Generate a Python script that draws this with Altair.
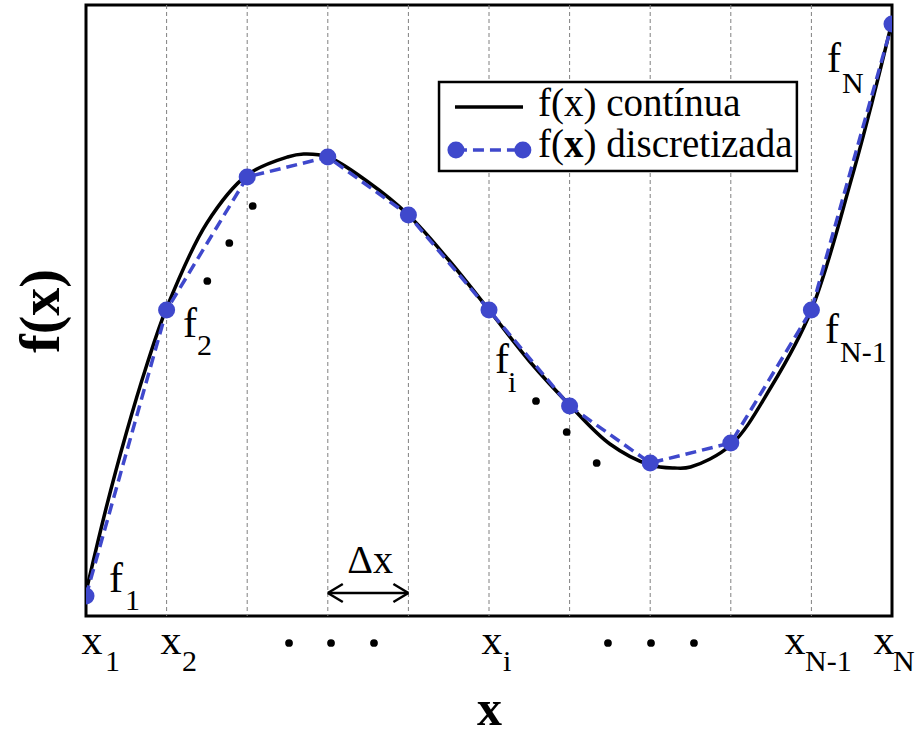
import altair as alt
import pandas as pd

# ---- data (x in node index units, f in plot units) ----
x_disc = [0, 1, 2, 3, 4, 5, 6, 7, 8, 9, 10]
f_disc = [20, 306, 439, 459, 401, 306, 210, 153, 173, 306, 592]

x_cont = [0, 0.25, 0.5, 0.75, 1, 1.5, 2, 2.5, 2.7, 3, 3.5, 4, 4.5, 5, 5.5,
          6, 6.5, 7, 7.3, 7.5, 8, 8.5, 9, 9.5, 9.75, 10]
f_cont = [24, 108, 183, 250, 308, 393, 441, 459, 462, 459, 434, 401, 356, 306, 255,
          211, 172, 151, 148, 149, 171, 229, 306, 438, 513, 594]

grid_x = [1, 2, 3, 4, 5, 6, 7, 8, 9]

# x-axis node labels: main letter + subscript
xl_main_x = [0.074, 1.055, 5.037, 8.797, 9.901]
xl_sub_x = [0.236, 1.19, 5.174, 8.921, 10.012]
xl_sub = ["1", "2", "i", "N-1", "N"]

# f labels near the nodes
fl_main_x = [0.285, 1.203, 5.074, 9.169, 9.194]
fl_main_y = [24, 279, 243, 273, 544]
fl_sub_x = [0.484, 1.377, 5.236, 9.355, 9.380]
fl_sub_y = [6, 261, 224, 254, 523]
fl_sub = ["1", "2", "i", "N-1", "N"]

# ellipsis dots
dots_x = [1.505, 1.778, 2.068, 5.583, 5.964, 6.336, 2.519, 3.04, 3.573, 6.476, 7.01, 7.543]
dots_y = [335, 373, 410, 215, 184, 153, -27, -27, -27, -27, -27, -27]

BLUE = "#3F48CC"
FONT = "Liberation Serif"

xs = alt.Scale(domain=[0, 10], nice=False, zero=False)
ys = alt.Scale(domain=[0, 611], nice=False, zero=False)

xaxis = alt.Axis(title="x", labels=False, ticks=False, domain=False, grid=False,
                 titleFont=FONT, titleFontSize=50, titleFontWeight="bold",
                 titleColor="black", titleBaseline="alphabetic", titleAlign="center",
                 titleX=403, titleY=108)
yaxis = alt.Axis(title="f(x)", labels=False, ticks=False, domain=False, grid=False,
                 titleFont=FONT, titleFontSize=56, titleFontWeight="bold",
                 titleColor="black", titleBaseline="alphabetic", titleAlign="center",
                 titleAngle=270, titleX=-28, titleY=305.5)


def X(f):
    return alt.X(f, type="quantitative", scale=xs, axis=xaxis)


def Y(f):
    return alt.Y(f, type="quantitative", scale=ys, axis=yaxis)


grid = alt.Chart(pd.DataFrame({"x": grid_x})).mark_rule(
    color="#808080", strokeWidth=1, strokeDash=[4, 3]
).encode(x=X("x"))

cont = alt.Chart(pd.DataFrame({"x": x_cont, "f": f_cont})).mark_line(
    color="black", strokeWidth=3.5, interpolate="catmull-rom", clip=True
).encode(x=X("x"), y=Y("f"))

disc_line = alt.Chart(pd.DataFrame({"x": x_disc, "f": f_disc})).mark_line(
    color=BLUE, strokeWidth=3.5, strokeDash=[11, 6], clip=True
).encode(x=X("x"), y=Y("f"))

disc_pts = alt.Chart(pd.DataFrame({"x": x_disc, "f": f_disc})).mark_circle(
    color=BLUE, size=290, opacity=1, clip=True
).encode(x=X("x"), y=Y("f"))

# legend
leg_box = alt.Chart(pd.DataFrame({"x": [4.38], "x2": [8.82], "y": [445], "y2": [534]})).mark_rect(
    fill="white", stroke="black", strokeWidth=2.5
).encode(x=X("x"), x2="x2", y=Y("y"), y2="y2")

leg_black = alt.Chart(pd.DataFrame({"x": [4.578], "x2": [5.422], "y": [509]})).mark_rule(
    color="black", strokeWidth=3.5
).encode(x=X("x"), x2="x2", y=Y("y"))

leg_blue = alt.Chart(pd.DataFrame({"x": [4.59], "x2": [5.42], "y": [466]})).mark_rule(
    color=BLUE, strokeWidth=3.5, strokeDash=[11, 6]
).encode(x=X("x"), x2="x2", y=Y("y"))

leg_blue_pts = alt.Chart(pd.DataFrame({"x": [4.59, 5.42], "y": [466, 466]})).mark_circle(
    color=BLUE, size=290, opacity=1
).encode(x=X("x"), y=Y("y"))

leg_t1 = alt.Chart(pd.DataFrame({"x": [5.608], "y": [500], "t": ["f(x) contínua"]})).mark_text(
    font=FONT, fontSize=39, align="left", baseline="alphabetic", color="black"
).encode(x=X("x"), y=Y("y"), text="t:N")

leg_t2a = alt.Chart(pd.DataFrame({"x": [5.608], "y": [459], "t": ["f("]})).mark_text(
    font=FONT, fontSize=39, align="left", baseline="alphabetic", color="black"
).encode(x=X("x"), y=Y("y"), text="t:N")
leg_t2b = alt.Chart(pd.DataFrame({"x": [5.608], "y": [459], "t": ["x"]})).mark_text(
    font=FONT, fontSize=39, fontWeight="bold", align="left", baseline="alphabetic",
    color="black", dx=26
).encode(x=X("x"), y=Y("y"), text="t:N")
leg_t2c = alt.Chart(pd.DataFrame({"x": [5.608], "y": [459], "t": [") discretizada"]})).mark_text(
    font=FONT, fontSize=39, align="left", baseline="alphabetic", color="black", dx=45.5
).encode(x=X("x"), y=Y("y"), text="t:N")

# x node labels
xl_m = alt.Chart(pd.DataFrame({"x": xl_main_x, "y": [-38] * 5, "t": ["x"] * 5})).mark_text(
    font=FONT, fontSize=42, align="center", baseline="alphabetic", color="black"
).encode(x=X("x"), y=Y("y"), text="t:N")
xl_s = alt.Chart(pd.DataFrame({"x": xl_sub_x, "y": [-55] * 5, "t": xl_sub})).mark_text(
    font=FONT, fontSize=30, align="left", baseline="alphabetic", color="black"
).encode(x=X("x"), y=Y("y"), text="t:N")

# f labels
fl_m = alt.Chart(pd.DataFrame({"x": fl_main_x, "y": fl_main_y, "t": ["f"] * 5})).mark_text(
    font=FONT, fontSize=42, align="left", baseline="alphabetic", color="black"
).encode(x=X("x"), y=Y("y"), text="t:N")
fl_s = alt.Chart(pd.DataFrame({"x": fl_sub_x, "y": fl_sub_y, "t": fl_sub})).mark_text(
    font=FONT, fontSize=30, align="left", baseline="alphabetic", color="black"
).encode(x=X("x"), y=Y("y"), text="t:N")

# ellipsis dots
dots = alt.Chart(pd.DataFrame({"x": dots_x, "y": dots_y})).mark_circle(
    color="black", size=60, opacity=1
).encode(x=X("x"), y=Y("y"))

# delta x arrow
arrow_line = alt.Chart(pd.DataFrame({"x": [3], "x2": [4], "y": [23]})).mark_rule(
    color="black", strokeWidth=2.5
).encode(x=X("x"), x2="x2", y=Y("y"))
arrow_l = alt.Chart(pd.DataFrame({"x": [3], "y": [23]})).mark_point(
    shape="M0,0L2,-1.2M0,0L2,1.2", size=225, color="black", strokeWidth=2.5,
    filled=False, opacity=1
).encode(x=X("x"), y=Y("y"))
arrow_r = alt.Chart(pd.DataFrame({"x": [4], "y": [23]})).mark_point(
    shape="M0,0L-2,-1.2M0,0L-2,1.2", size=225, color="black", strokeWidth=2.5,
    filled=False, opacity=1
).encode(x=X("x"), y=Y("y"))
dx_text = alt.Chart(pd.DataFrame({"x": [3.524], "y": [43], "t": ["Δx"]})).mark_text(
    font=FONT, fontSize=40, align="center", baseline="alphabetic", color="black"
).encode(x=X("x"), y=Y("y"), text="t:N")

chart = alt.layer(
    grid, leg_box, cont, disc_line, disc_pts,
    leg_black, leg_blue, leg_blue_pts, leg_t1, leg_t2a, leg_t2b, leg_t2c,
    xl_m, xl_s, fl_m, fl_s, dots, arrow_line, arrow_l, arrow_r, dx_text
).properties(
    width=806, height=611,
    autosize=alt.AutoSizeParams(type="none"),
    padding={"left": 86, "top": 5, "right": 30, "bottom": 118},
    background="white",
).configure_view(stroke="black", strokeWidth=3)

chart.save("out.html", embed_options={"renderer": "svg", "actions": False})
